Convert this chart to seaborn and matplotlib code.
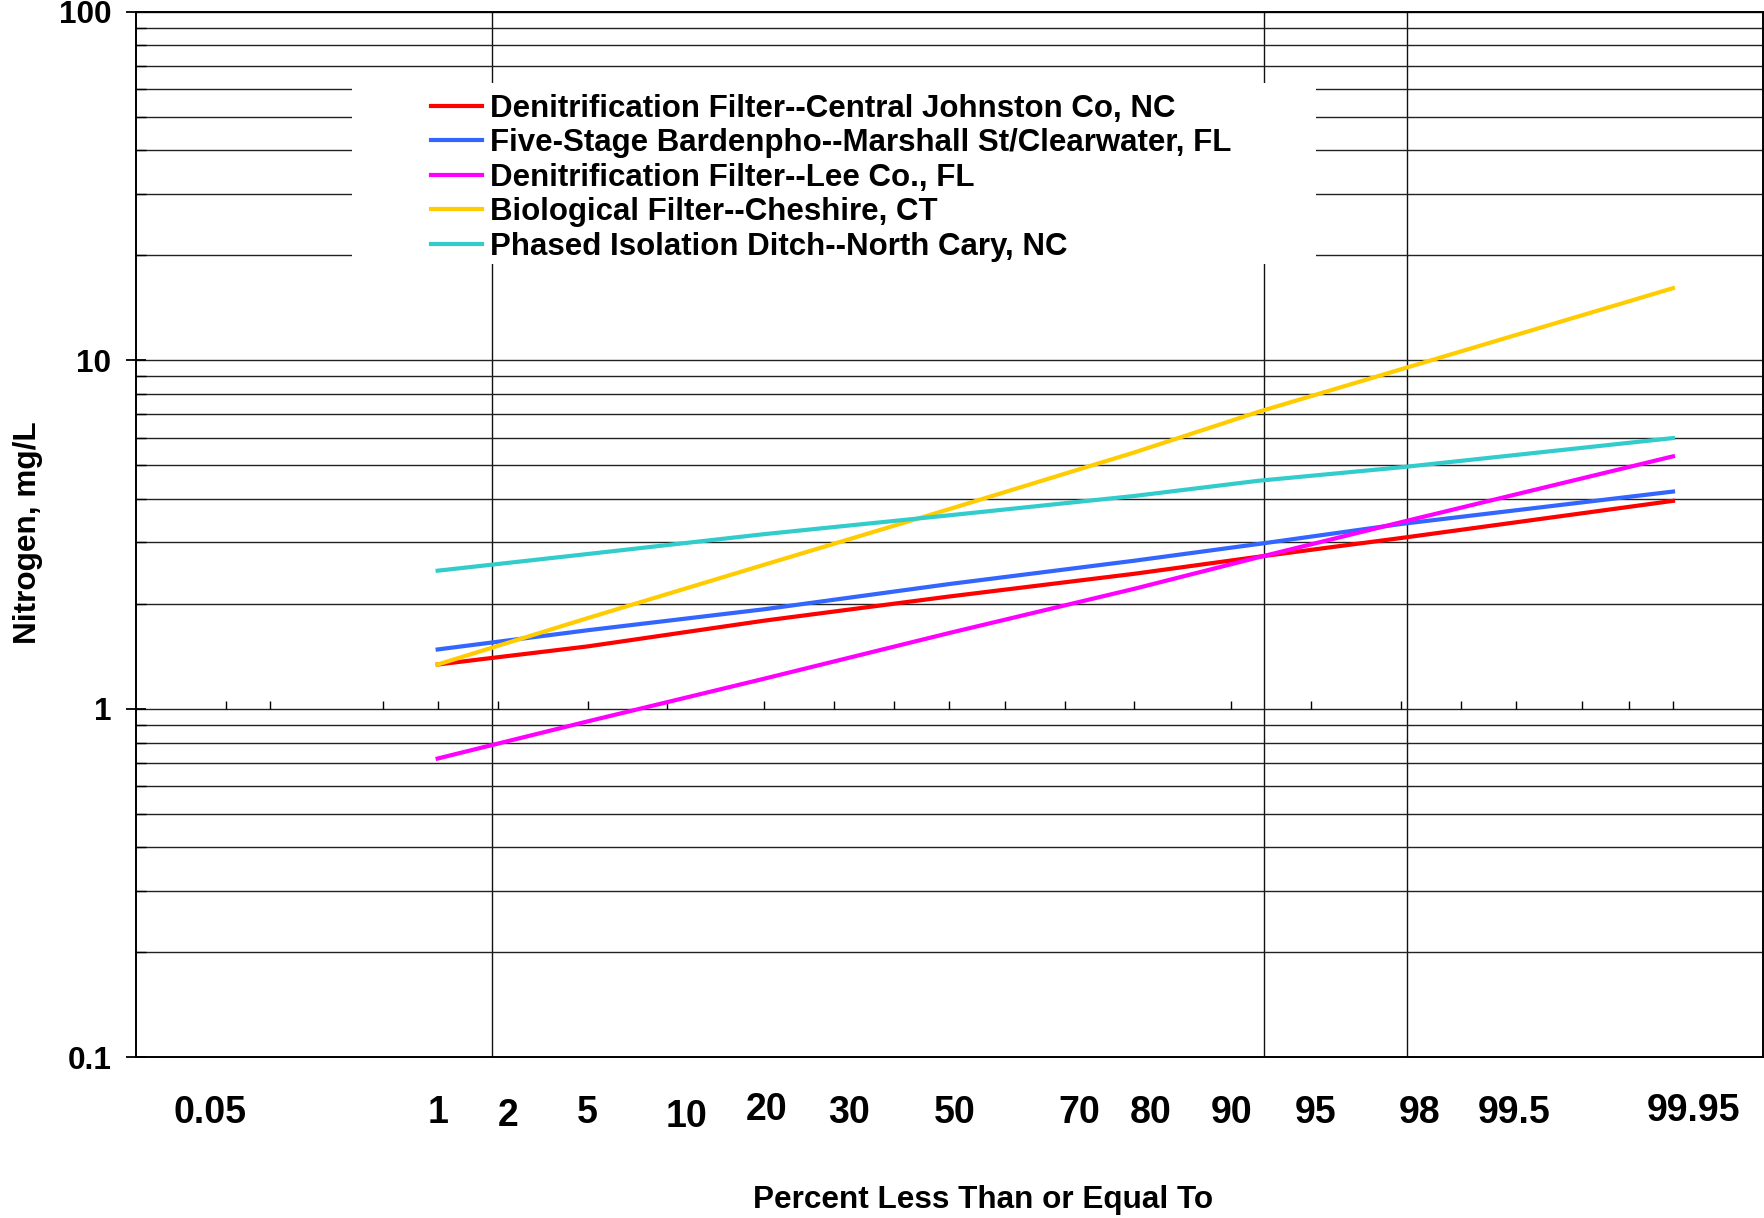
import numpy as np
import pandas as pd
import matplotlib
matplotlib.use("Agg")
import matplotlib.pyplot as plt
import matplotlib.ticker as mticker
import matplotlib.transforms as mtrans
from matplotlib.patches import Rectangle
import seaborn as sns
from statistics import NormalDist

# ---------------- data ----------------
percent = [1, 5, 20, 50, 80, 92, 98, 99.95]
central_johnston = [1.34, 1.51, 1.79, 2.10, 2.44, 2.73, 3.09, 3.95]
marshall_st = [1.48, 1.68, 1.93, 2.28, 2.66, 2.97, 3.39, 4.20]
lee_co = [0.72, 0.92, 1.22, 1.65, 2.21, 2.72, 3.43, 5.30]
cheshire = [1.34, 1.82, 2.59, 3.74, 5.44, 7.11, 9.42, 16.1]
north_cary = [2.49, 2.78, 3.17, 3.59, 4.08, 4.51, 4.93, 5.98]

series_names = [
    "Denitrification Filter--Central Johnston Co, NC",
    "Five-Stage Bardenpho--Marshall St/Clearwater, FL",
    "Denitrification Filter--Lee Co., FL",
    "Biological Filter--Cheshire, CT",
    "Phased Isolation Ditch--North Cary, NC",
]
series_values = [central_johnston, marshall_st, lee_co, cheshire, north_cary]
colors = ["#FF0000", "#3366FF", "#FF00FF", "#FFCC00", "#33CCCC"]

xtick_values = [0.05, 1, 2, 5, 10, 20, 30, 50, 70, 80, 90, 95, 98, 99.5, 99.95]
xtick_labels = ["0.05", "1", "2", "5", "10", "20", "30", "50", "70", "80",
                "90", "95", "98", "99.5", "99.95"]
axis_tick_values = [0.05, 0.1, 0.5, 1, 2, 5, 10, 20, 30, 40, 50, 60, 70, 80,
                    90, 95, 98, 99, 99.5, 99.8, 99.9, 99.95]
ytick_values = [0.1, 1, 10, 100]
ytick_labels = ["0.1", "1", "10", "100"]

# ---------------- styling / layout ----------------
# small hand-placed shifts of the x tick labels (points), as in the original slide
label_nudge_x = [-11.5, 0, 7.6, 0, 13.7, 1.9, 10.5, 3.6, 10.8, 11.5, 0, 3.2, 13.4, -1.0, 14.4]
label_nudge_y = [0, 0, -2.5, 0, -3.0, 1.8, 0, 0, 0, 0, 0, 0, 0, 0, 1.5]

plt.rcParams["font.family"] = ["Liberation Sans", "DejaVu Sans"]
plt.rcParams["font.weight"] = "bold"

_nd = NormalDist()


def to_z(p):
    p = np.asarray(p, dtype=float)
    q = np.clip(p / 100.0, 1e-12, 1 - 1e-12)
    return np.vectorize(_nd.inv_cdf, otypes=[float])(q)


def from_z(z):
    z = np.asarray(z, dtype=float)
    return np.vectorize(_nd.cdf, otypes=[float])(z) * 100.0


Z_LIM = 3.70
grid_z = [-2.08, 0.0, 1.43, 2.08]
Y_MIN, Y_MAX = 0.1, 100

df = pd.DataFrame({
    "Percent": np.tile(percent, len(series_names)),
    "Nitrogen": np.concatenate(series_values),
    "Series": np.repeat(series_names, len(percent)),
})

fig = plt.figure(figsize=(17.65, 12.18), dpi=100, facecolor="white")
ax = fig.add_axes([0.0768, 0.1319, 0.9221, 0.8585])
ax.set_facecolor("white")

sns.lineplot(data=df, x="Percent", y="Nitrogen", hue="Series",
             hue_order=series_names, palette=colors, linewidth=3.0,
             estimator=None, sort=False, ax=ax, zorder=3)

ax.set_xscale("function", functions=(to_z, from_z))
ax.set_yscale("log")
ax.set_xlim(float(from_z(-Z_LIM)), float(from_z(Z_LIM)))
ax.set_ylim(Y_MIN, Y_MAX)

# x ticks (labels only) and vertical grid lines
ax.xaxis.set_major_locator(mticker.FixedLocator(xtick_values))
ax.xaxis.set_major_formatter(mticker.FixedFormatter(xtick_labels))
ax.xaxis.set_minor_locator(mticker.FixedLocator(list(from_z(grid_z))))
ax.tick_params(axis="x", which="major", length=0, pad=27, labelsize=27)
ax.tick_params(axis="x", which="minor", length=0)

# y ticks
ax.yaxis.set_major_locator(mticker.FixedLocator(ytick_values))
ax.yaxis.set_major_formatter(mticker.FixedFormatter(ytick_labels))
ax.yaxis.set_minor_locator(mticker.LogLocator(base=10, subs=np.arange(2, 10)))
ax.yaxis.set_minor_formatter(mticker.NullFormatter())
ax.tick_params(axis="y", which="major", direction="inout", length=15,
               width=1.3, pad=10, labelsize=22.7)
ax.tick_params(axis="y", which="minor", direction="in", length=7, width=1.0)

ax.set_axisbelow(True)
ax.grid(True, which="both", axis="y", color="#222222", linewidth=1.0)
ax.grid(True, which="minor", axis="x", color="#111111", linewidth=1.0)
ax.grid(False, which="major", axis="x")

for s in ax.spines.values():
    s.set_color("black")
    s.set_linewidth(1.4)

# bold tick labels and per-label nudges
for tick, dx, dy in zip(ax.xaxis.get_major_ticks(), label_nudge_x, label_nudge_y):
    tick.label1.set_fontweight("bold")
    tick.label1.set_transform(tick.label1.get_transform() +
                              mtrans.ScaledTranslation(dx / 72, dy / 72, fig.dpi_scale_trans))
for tick in ax.yaxis.get_major_ticks():
    tick.label1.set_fontweight("bold")

# small upward tick marks along the y = 1 line
ax.plot(axis_tick_values, [1] * len(axis_tick_values), linestyle="none",
        marker=2, markersize=6, markeredgewidth=1.0, color="black", zorder=2)

# axis labels
ax.set_xlabel("Percent Less Than or Equal To", fontsize=22.7, fontweight="bold")
ax.xaxis.label.set_va("center")
ax.xaxis.set_label_coords(0.521, -0.1365)
ax.set_ylabel("Nitrogen, mg/L", fontsize=22.7, fontweight="bold")
ax.yaxis.label.set_va("center")
ax.yaxis.set_label_coords(-0.0661, 0.502)

# legend on a white box
ax.add_patch(Rectangle((0.1330, 0.7587), 0.5923, 0.1734, transform=ax.transAxes,
                       facecolor="white", edgecolor="none", zorder=2.5))
sns.move_legend(ax, "upper left", bbox_to_anchor=(0.1814, 0.9214), title=None,
                frameon=False, borderpad=0, borderaxespad=0,
                prop={"weight": "bold", "size": 22.5},
                handlelength=1.64, handletextpad=0.25, labelspacing=0.144)
leg = ax.get_legend()
leg.set_zorder(5)
for h in leg.legend_handles:
    h.set_linewidth(3.0)

fig.savefig("out.png", dpi=100, facecolor="white")
